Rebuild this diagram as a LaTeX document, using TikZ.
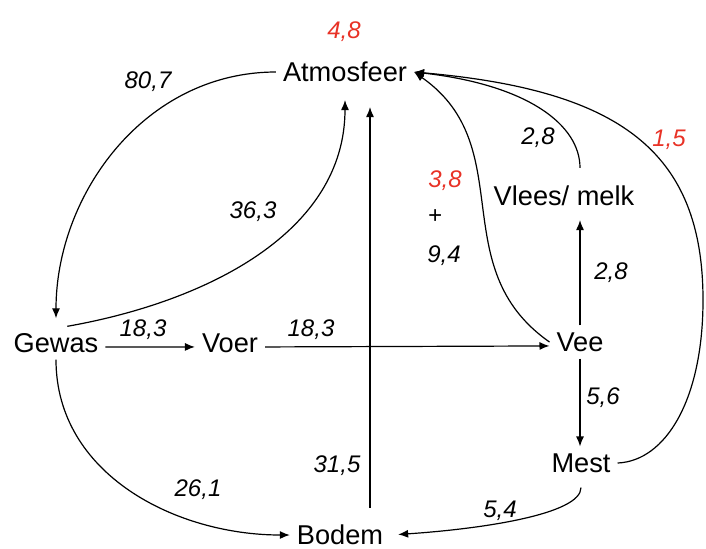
\documentclass[tikz,border=0pt]{standalone}
\usepackage{fontspec}
\setmainfont{Liberation Sans}
\usetikzlibrary{arrows.meta,calc}
\definecolor{LossClr}{RGB}{232,50,38}

\begin{document}
\begin{tikzpicture}[x=0.5pt,y=-0.5pt,
  pool/.style={font=\fontsize{13.6}{16}\selectfont},
  flux/.style={font=\fontsize{12}{14}\selectfont\itshape},
  loss/.style={flux,text=LossClr},
  flow/.style={line width=0.6pt,-{Latex[length=5pt,width=4pt]}}]
\useasboundingbox (0,0) rectangle (706,548);

% pools
\node[pool] (atm) at (345,72) {Atmosfeer};
\node[pool] (gewas) at (56,343) {Gewas};
\node[pool] (voer) at (230,343) {Voer};
\node[pool] (vee) at (580,342) {Vee};
\node[pool] (vlees) at (564,196) {Vlees/ melk};
\node[pool] (mest) at (581,463) {Mest};
\node[pool] (bodem) at (340,535) {Bodem};
\coordinate (rim) at (703,300);

% fluxes
\node[loss] (f48) at (344,32) {4,8};
\node[flux] (f807) at (148,82) {80,7};
\node[flux] (f363) at (253,212) {36,3};
\node[flux] (f183a) at (143,330) {18,3};
\node[flux] (f183b) at (311,330) {18,3};
\node[loss] (f38) at (445,181) {3,8};
\node[flux] (fplus) at (435,217) {+};
\node[flux] (f94) at (444,256) {9,4};
\node[flux] (f28a) at (538,138) {2,8};
\node[loss] (f15) at (669,140) {1,5};
\node[flux] (f28b) at (611,273) {2,8};
\node[flux] (f56) at (603,398) {5,6};
\node[flux] (f315) at (337,466) {31,5};
\node[flux] (f261) at (198,490) {26,1};
\node[flux] (f54) at (500,511) {5,4};

% flows
\draw[flow,shorten >=4pt] (atm.west) to[out=180,in=90] (gewas.north);
\draw[flow,shorten >=5.5pt] (gewas.56) to[out=10,in=-90] (atm.south);
\draw[flow,shorten <=5pt,shorten >=9pt] ([xshift=15pt]bodem.north) -- ([xshift=15pt]bodem.north |- atm.south);
\draw[flow] (gewas.mid east) -- (voer.mid west);
\draw[flow] (voer.mid east) -- (vee.mid west);
\draw[flow] (vee.west) to[out=145,in=-35,looseness=1.1] (atm.east);
\draw[flow] ([yshift=5.5pt]vee.north |- vlees.north) .. controls +(0,-43) and +(114,13) .. (atm.east);
\draw[flow] (mest.east) .. controls +(48,-2) and +(0,100) .. (rim)
  .. controls +(0,-150) and +(204,18) .. (atm.east);
\draw[flow,shorten >=3.5pt] (vee.north) -- (vlees.south -| vee.north);
\draw[flow] (vee.south) -- (vee.south |- mest.north);
\draw[flow] (gewas.south) to[out=-90,in=180] (bodem.west);
\draw[flow,shorten <=4pt,shorten >=4pt] (mest.south) .. controls +(0,35) and +(90,-6) .. (bodem.east);

\end{tikzpicture}
\end{document}
